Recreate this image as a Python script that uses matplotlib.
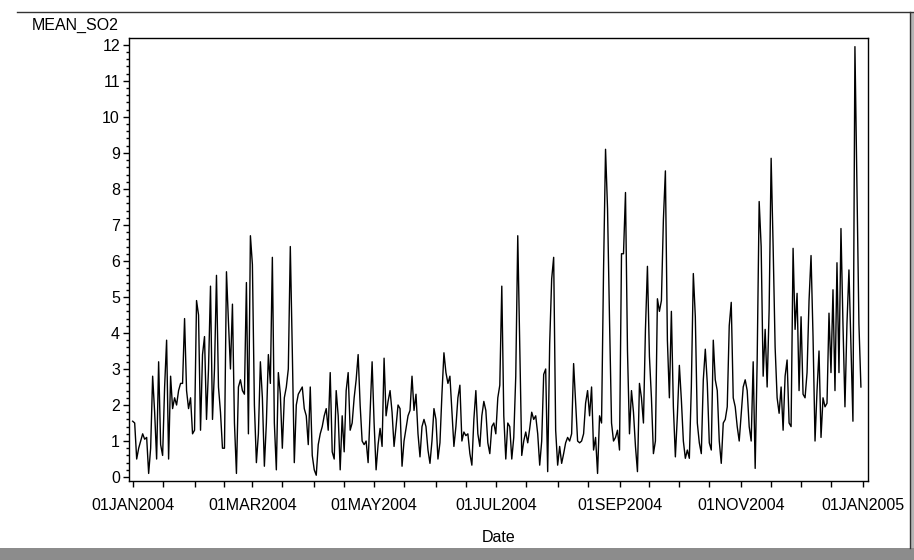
"""
plot.py
=======

Daily mean SO2 for 2004, redrawn in the look of the old SAS/GPLOT output:
one thin black series, outward ticks, date labels like 01JAN2004.
"""

import matplotlib
matplotlib.use("Agg")
import matplotlib.pyplot as plt
import matplotlib.dates as mdates
from matplotlib.lines import Line2D
from matplotlib.patches import Rectangle
import pandas as pd


# ======================================================================
# DATA (daily MEAN_SO2, one list per month)
# ======================================================================

so2_jan = [1.55, 1.5, 0.5, 0.8, 1.0, 1.2, 1.05, 1.1, 0.1, 0.8, 2.8, 1.8, 0.5, 3.2, 0.9, 0.6,
           2.5, 3.8, 0.5, 2.8, 1.9, 2.2, 2.0, 2.4, 2.6, 2.6, 4.4, 2.4, 1.9, 2.2, 1.2]
so2_feb = [1.3, 4.9, 4.5, 1.3, 3.4, 3.9, 1.6, 3.0, 5.3, 1.6, 3.0, 5.6, 2.5, 1.8, 0.8, 0.8,
           5.7, 4.3, 3.0, 4.8, 1.5, 0.1, 2.5, 2.7, 2.4, 2.3, 5.4, 1.2, 6.7]
so2_mar = [5.9, 2.0, 0.4, 1.2, 3.2, 2.2, 0.3, 1.5, 3.4, 2.6, 6.1, 1.5, 0.2, 2.9, 2.3, 0.8,
           2.2, 2.5, 3.0, 6.4, 3.5, 0.4, 2.0, 2.3, 2.4, 2.5, 1.9, 1.7, 0.9, 2.5, 0.6]
so2_apr = [0.2, 0.05, 0.9, 1.2, 1.4, 1.7, 1.9, 1.3, 2.9, 0.7, 0.5, 2.4, 1.7, 0.2, 1.7,
           0.7, 2.4, 2.9, 1.3, 1.5, 2.2, 2.7, 3.4, 2.0, 1.0, 0.9, 1.0, 0.4, 1.8, 3.2]
so2_may = [1.5, 0.2, 0.9, 1.35, 0.85, 3.3, 1.7, 2.1, 2.4, 1.8, 0.85, 1.4, 2.0, 1.9, 0.3, 1.0,
           1.35, 1.7, 1.85, 2.8, 1.85, 2.3, 1.2, 0.56, 1.4, 1.6, 1.4, 0.75, 0.38, 1.0, 1.9]
so2_jun = [1.6, 0.5, 0.95, 2.3, 3.45, 2.9, 2.6, 2.8, 1.85, 0.85, 1.4, 2.2, 2.55, 1.0, 1.25,
           1.15, 1.2, 0.65, 0.33, 1.6, 2.4, 1.2, 0.85, 1.7, 2.1, 1.85, 0.95, 0.65, 1.4, 1.5]
so2_jul = [1.2, 2.2, 2.55, 5.3, 1.7, 0.5, 1.5, 1.4, 0.5, 1.1, 2.8, 6.7, 3.6, 0.6, 1.0, 1.25,
           0.95, 1.35, 1.8, 1.6, 1.7, 1.2, 0.33, 1.0, 2.85, 3.0, 0.15, 3.7, 5.5, 6.1, 1.3]
so2_aug = [0.33, 0.85, 0.38, 0.65, 0.95, 1.1, 1.0, 1.2, 3.15, 2.05, 1.0, 0.95, 1.0, 1.2, 2.05,
           2.4, 1.7, 2.5, 0.75, 1.1, 0.1, 1.7, 1.5, 5.75, 9.1, 7.45, 4.35, 1.5, 1.0, 1.1, 1.3]
so2_sep = [0.75, 6.2, 6.2, 7.9, 3.5, 1.2, 2.4, 1.8, 0.85, 0.15, 2.6, 2.2, 1.5, 4.1, 5.85,
           3.35, 2.2, 0.65, 1.0, 4.95, 4.6, 4.9, 7.15, 8.5, 3.8, 2.2, 4.6, 1.95, 0.56, 1.7]
so2_oct = [3.1, 2.15, 1.0, 0.52, 0.75, 0.52, 2.5, 5.65, 4.45, 1.5, 0.95, 0.65, 2.7, 3.55, 2.6,
           0.95, 0.75, 3.8, 2.7, 2.4, 1.0, 0.38, 1.5, 1.6, 1.95, 4.2, 4.85, 2.2, 1.95, 1.4, 1.0]
so2_nov = [1.77, 2.5, 2.7, 2.4, 1.4, 1.0, 3.2, 0.24, 3.25, 7.65, 6.4, 2.8, 4.1, 2.5, 4.65,
           8.85, 6.4, 3.6, 2.2, 1.77, 2.5, 1.3, 2.8, 3.25, 1.5, 1.4, 6.35, 4.1, 5.1, 2.4]
so2_dec = [4.45, 2.3, 2.2, 2.9, 4.9, 6.15, 3.9, 1.0, 2.4, 3.5, 1.1, 2.2, 1.95, 2.05, 4.55,
           2.9, 5.2, 2.4, 5.95, 2.9, 6.9, 4.25, 1.95, 4.25, 5.75, 3.6, 1.55, 11.95, 8.15, 4.25, 2.5]

y_ticks = list(range(0, 13))
x_major_months = [1, 3, 5, 7, 9, 11]


# ======================================================================
# FIGURE
# ======================================================================

plt.rcParams["font.family"] = ["Liberation Sans", "DejaVu Sans"]

W, H = 914, 560
fig = plt.figure(figsize=(W / 100, H / 100), dpi=100)
fig.patch.set_facecolor("white")

# axes frame in pixels: left 129, right 868, top 38, bottom 481
ax = fig.add_axes([129 / W, 1 - 481 / H, (868 - 129) / W, (481 - 38) / H])

values = (so2_jan + so2_feb + so2_mar + so2_apr + so2_may + so2_jun
          + so2_jul + so2_aug + so2_sep + so2_oct + so2_nov + so2_dec)
dates = pd.date_range("2004-01-01", periods=len(values), freq="D")

ax.plot(dates, values, color="black", linewidth=1.0)

# --- x axis: dates, major every two months, minor on the 1st and 16th ---
x0 = pd.Timestamp("2004-01-01") - pd.Timedelta(days=1.85)
x1 = pd.Timestamp("2005-01-01") + pd.Timedelta(days=2.55)
ax.set_xlim(x0, x1)
ax.xaxis.set_major_locator(mdates.MonthLocator(bymonth=x_major_months))
ax.xaxis.set_minor_locator(mdates.MonthLocator(bymonthday=(1, 16)))
ax.xaxis.set_major_formatter(
    plt.FuncFormatter(lambda v, pos: mdates.num2date(v).strftime("%d%b%Y").upper()))

# --- y axis ---
ax.set_ylim(-0.11, 12.19)
ax.set_yticks(y_ticks)
ax.yaxis.set_minor_locator(plt.MultipleLocator(0.2))

ax.tick_params(axis="both", which="both", direction="out", color="black", width=1.0)
ax.tick_params(axis="x", which="major", length=4.5, pad=8, labelsize=11.5)
ax.tick_params(axis="x", which="minor", length=4.0)
ax.tick_params(axis="y", which="major", length=4.0, pad=2.5, labelsize=11.5)
ax.tick_params(axis="y", which="minor", length=2.5)

for spine in ax.spines.values():
    spine.set_linewidth(1.0)
    spine.set_color("black")

# --- labels ---
fig.text(32 / W, 1 - 25 / H, "MEAN_SO2", ha="left", va="center", fontsize=11.5)
fig.text(498.5 / W, 1 - 537 / H, "Date", ha="center", va="center", fontsize=11.5)


# ======================================================================
# SCAN BORDERS
# ======================================================================

fig.add_artist(Line2D([17 / W, 1.0], [1 - 12 / H, 1 - 12 / H], color="#333333", linewidth=1.0))
fig.add_artist(Line2D([910 / W, 910 / W], [1 - 12 / H, 1 - 548 / H], color="#333333", linewidth=1.0))
fig.add_artist(Rectangle((911 / W, 1 - 548 / H), 3 / W, 536 / H, transform=fig.transFigure,
                         facecolor="#b5b5b5", edgecolor="none"))
fig.add_artist(Rectangle((0, 0), 1, 12 / H, transform=fig.transFigure,
                         facecolor="#8c8c8c", edgecolor="none"))

fig.savefig("out.png", dpi=100)
